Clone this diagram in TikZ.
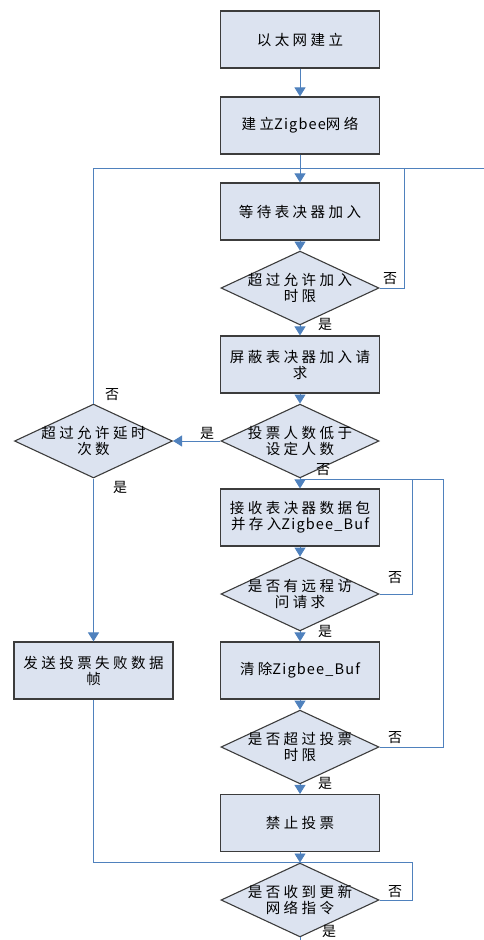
\documentclass[tikz,border=0pt]{standalone}
\usepackage{fontspec}
\setmainfont{Noto Sans CJK SC}[LetterSpace=24]
\newfontfamily\latinpart{Noto Sans CJK SC}[LetterSpace=8]
\newcommand{\zb}[1]{{\latinpart #1}}
\usetikzlibrary{shapes.geometric,arrows.meta}
\definecolor{flowblue}{RGB}{79,129,189}
\definecolor{boxfill}{RGB}{220,227,240}
\definecolor{boxline}{RGB}{60,60,60}

\begin{document}
\begin{tikzpicture}[x=1pt,y=-1pt,
		box/.style={draw=boxline, line width=1.1pt, fill=boxfill, text width=153pt, minimum height=57pt, align=center, inner sep=3pt, font=\fontsize{14.5}{16}\selectfont},
		decision/.style={diamond, draw=boxline, line width=1.1pt, fill=boxfill, minimum width=158pt, minimum height=56pt, align=center, inner sep=-15pt, font=\fontsize{14.5}{16}\selectfont},
		flow/.style={draw=flowblue, line width=0.9pt},
		arr/.style={flow, -{Triangle[width=11pt,length=9pt]}},
		lab/.style={inner sep=0pt, font=\fontsize{14}{15}\selectfont}]
		\useasboundingbox (0,0) rectangle (484,940);
		
		%main column of the flow chart
		\node[box] (b1) at (300,39.5) {以太网建立};
		\node[box] (b2) at (300,125.5) {建立\zb{Zigbee}网络};
		\node[box] (b3) at (300,211.5) {等待表决器加入};
		\node[decision] (d1) at (300,288) {超过允许加入\\时限};
		\node[box] (b4) at (300,364.5) {屏蔽表决器加入请\\求};
		\node[decision] (d2) at (300,441) {投票人数低于\\设定人数};
		\node[box] (b5) at (300,517.5) {接收表决器数据包\\并存入\zb{Zigbee\_Buf}};
		\node[decision] (d3) at (300,594) {是否有远程访\\问请求};
		\node[box] (b6) at (300,670.5) {清除\zb{Zigbee\_Buf}};
		\node[decision] (d4) at (300,747) {是否超过投票\\时限};
		\node[box] (b7) at (300,823) {禁止投票};
		\node[decision] (d5) at (300,900) {是否收到更新\\网络指令};
		
		%left column: retry count and failure frame
		\node[decision] (delay) at (93.5,441) {超过允许延时\\次数};
		\node[box] (fail) at (93.5,670.5) {发送投票失败数据\\帧};
		
		%corner points of the loops
		\coordinate (topR) at (484,168);
		\coordinate (j1) at (404,168);
		\coordinate (j3) at (412,479);
		\coordinate (j4) at (443,479);
		\coordinate (j5) at (412,862);
		\coordinate (low) at (300,862);
		\coordinate (endB) at (300,940);
		
		%loops back to the top
		\draw[flow] (delay.north) |- (topR);
		\draw[flow] (d1.east) -| (j1);
		\draw[flow] (d3.east) -| (j3);
		\draw[flow] (d4.east) -| (j4) -- (d2.south |- j4);
		\draw[flow] (fail.south) |- (low);
		\draw[flow] (d5.east) -| (j5) -- (low);
		\draw[flow] (d5.south) -- (endB);
		
		%arrows down the chart
		\draw[arr] (b1) -- (b2);
		\draw[arr] (b2) -- (b3);
		\draw[arr] (b3) -- (d1);
		\draw[arr] (d1) -- (b4);
		\draw[arr] (b4) -- (d2);
		\draw[arr] (d2.west) -- (delay.east);
		\draw[arr] (d2) -- (b5);
		\draw[arr] (b5) -- (d3);
		\draw[arr] (d3) -- (b6);
		\draw[arr] (b6) -- (d4);
		\draw[arr] (d4) -- (b7);
		\draw[arr] (b7) -- (d5);
		\draw[arr] (delay) -- (fail);
		
		%yes / no labels
		\node[lab] (n1) at (390,279) {否};
		\node[lab] (y1) at (325,324) {是};
		\node[lab] (n0) at (112,395) {否};
		\node[lab] (y2) at (207,433) {是};
		\node[lab] (n2) at (323,470) {否};
		\node[lab] (y0) at (120,487) {是};
		\node[lab] (n3) at (395,578) {否};
		\node[lab] (y3) at (325,631) {是};
		\node[lab] (n4) at (395,738) {否};
		\node[lab] (y4) at (325,783) {是};
		\node[lab] (n5) at (395,892) {否};
		\node[lab] (y5) at (329,931) {是};
	\end{tikzpicture}
\end{document}
